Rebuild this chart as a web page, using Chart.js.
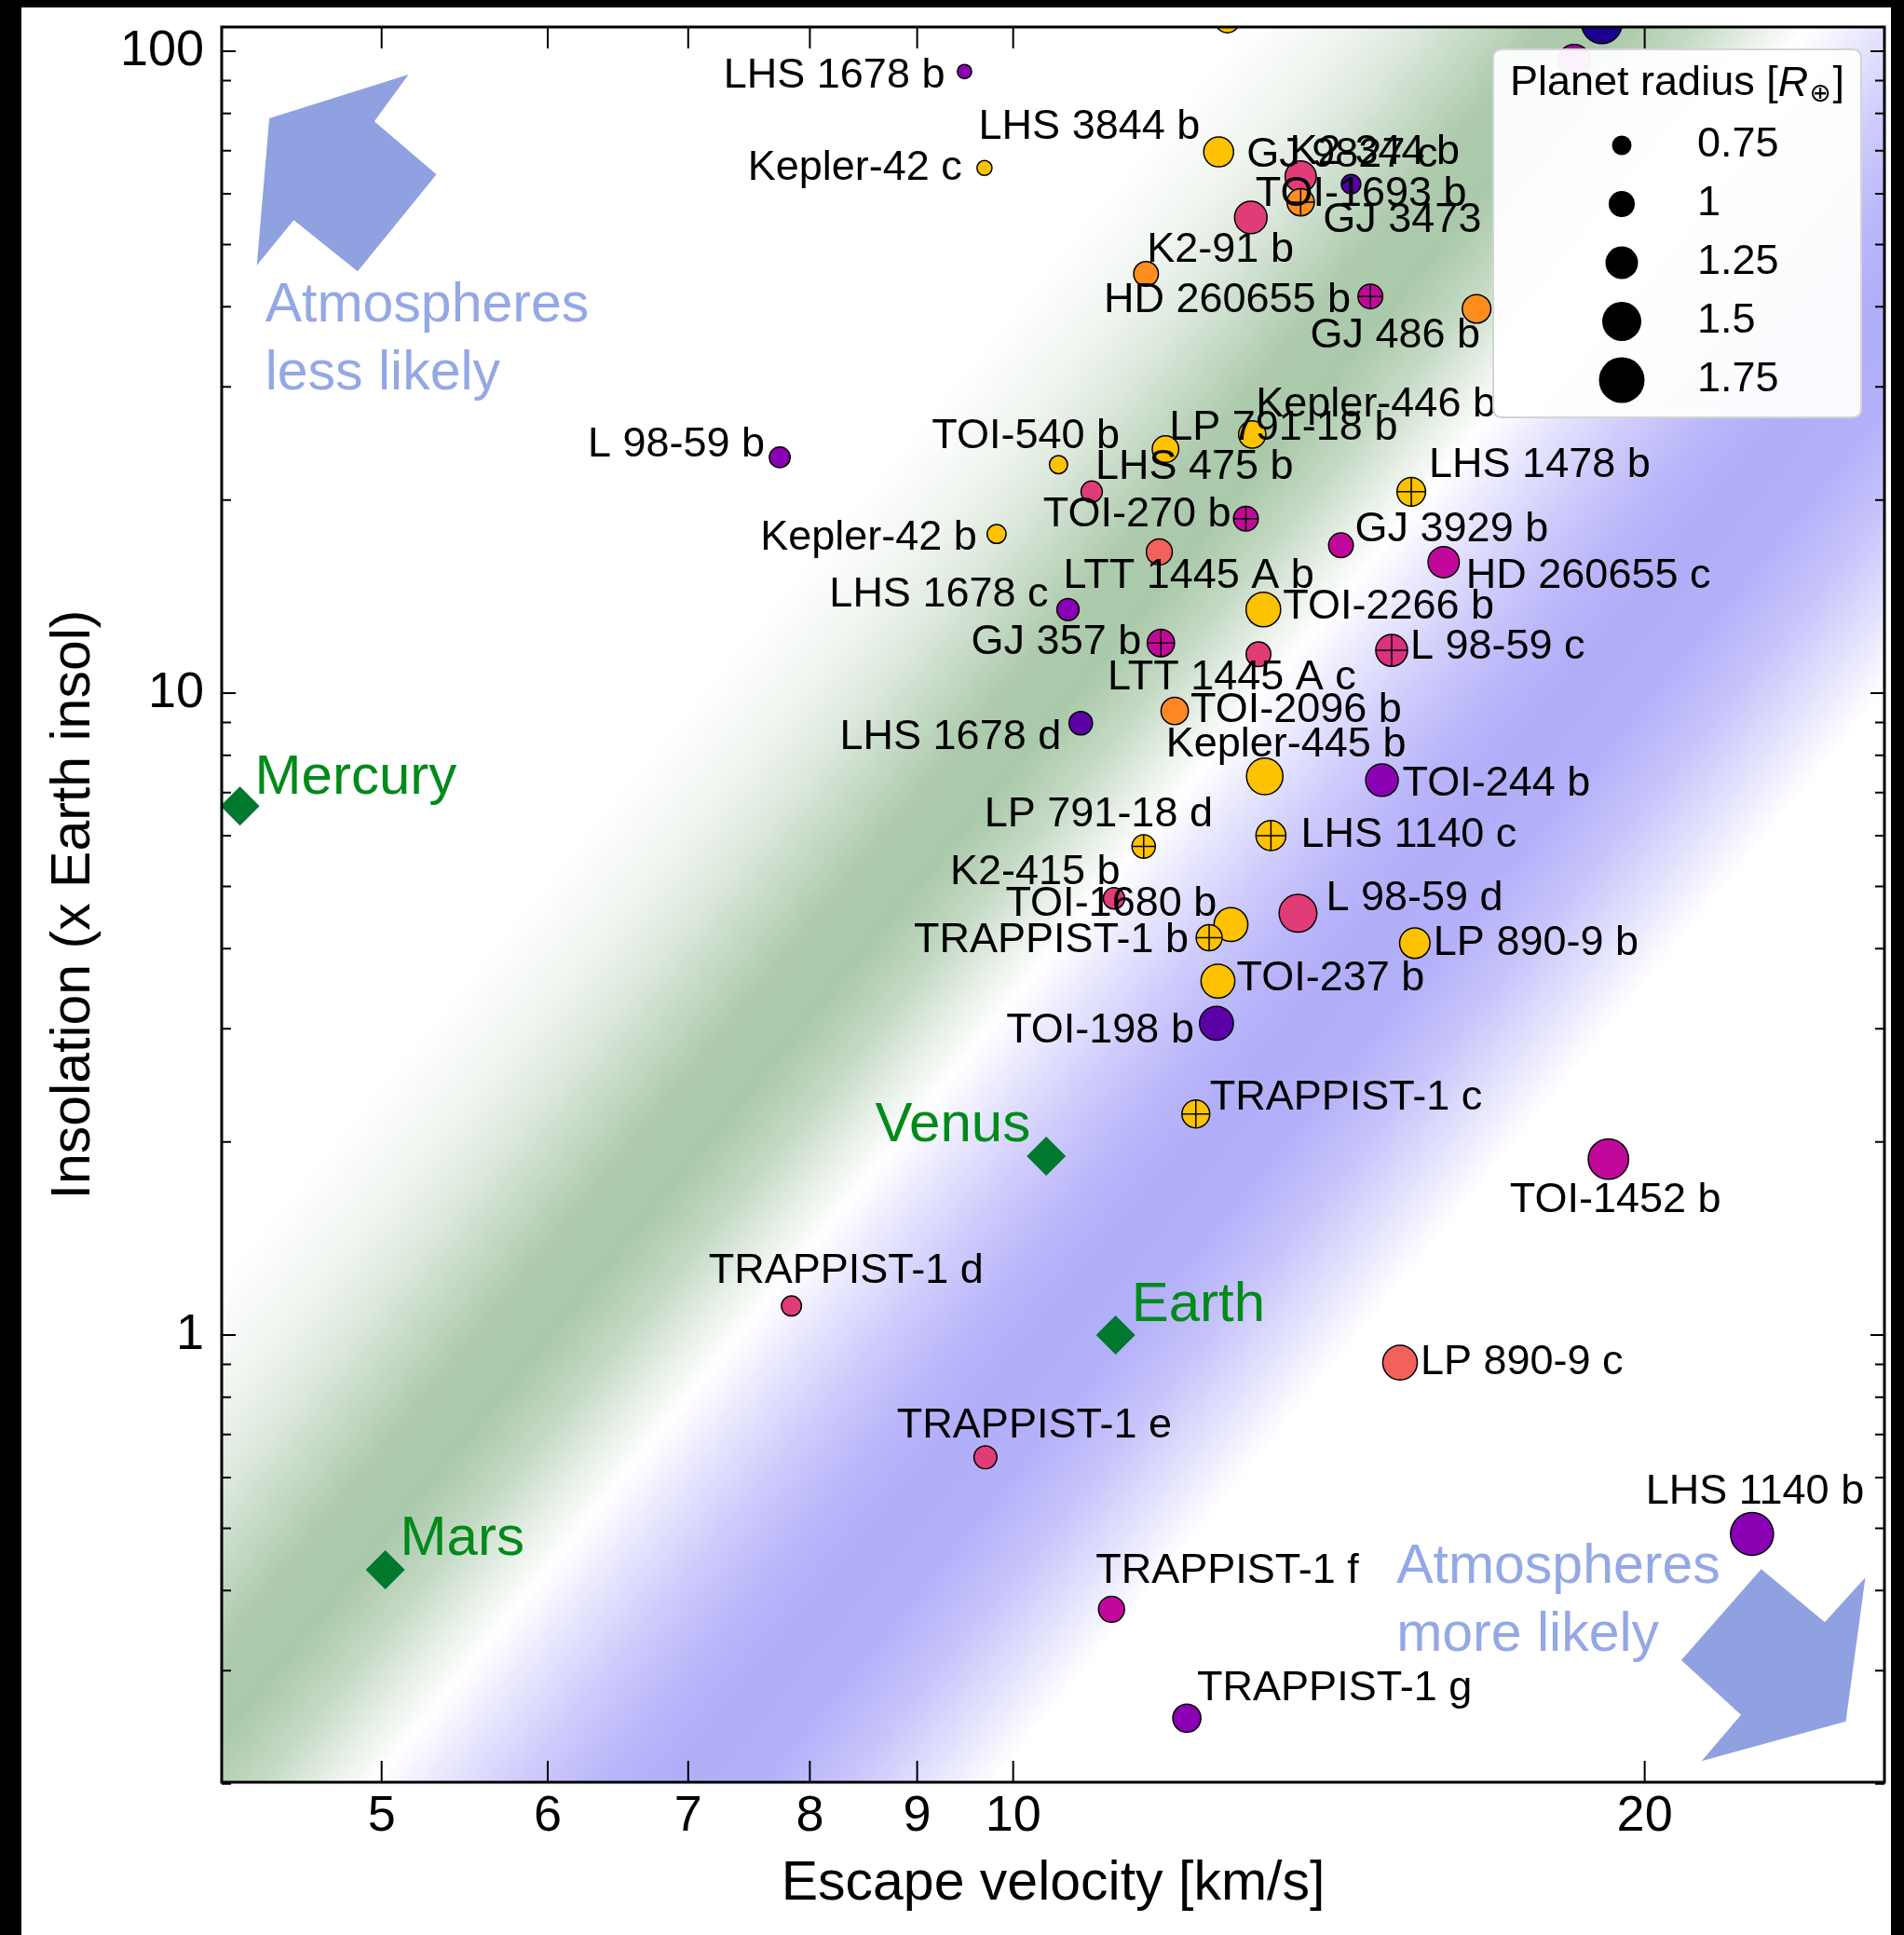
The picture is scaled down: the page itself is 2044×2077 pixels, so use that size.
<!DOCTYPE html>
<html>
<head>
<meta charset="utf-8">
<script src="https://cdn.jsdelivr.net/npm/chart.js@4.4.1/dist/chart.umd.min.js"></script>
<style>
  html, body { margin: 0; padding: 0; background: #000; width: 2044px; height: 2077px; overflow: hidden; }
  #wrap { position: absolute; left: 23px; top: 8px; width: 2007px; height: 2069px; background: #fff; }
  canvas { display: block; }
</style>
</head>
<body>
<div id="wrap"><canvas id="c" width="2007" height="2069"></canvas></div>
<script>
// ---------------- DATA ----------------
const planetNames = [
  'LHS 1678 b', 'LHS 3844 b', 'Kepler-42 c', 'GJ 9827 c', 'K2-344 b', 'GJ 3473', 'TOI-1693 b',
  'K2-91 b', 'HD 260655 b', 'GJ 486 b', 'L 98-59 b', 'TOI-540 b', 'LP 791-18 b', 'Kepler-446 b',
  'LHS 475 b', 'TOI-270 b', 'Kepler-42 b', 'LTT 1445 A b', 'LHS 1478 b', 'GJ 3929 b', 'HD 260655 c',
  'LHS 1678 c', 'TOI-2266 b', 'GJ 357 b', 'LTT 1445 A c', 'L 98-59 c', 'TOI-2096 b', 'LHS 1678 d',
  'Kepler-445 b', 'TOI-244 b', 'LP 791-18 d', 'LHS 1140 c', 'K2-415 b', 'TOI-1680 b', 'TRAPPIST-1 b',
  'L 98-59 d', 'LP 890-9 b', 'TOI-237 b', 'TOI-198 b', 'TRAPPIST-1 c', 'TOI-1452 b', 'LP 890-9 c',
  'LHS 1140 b', 'TRAPPIST-1 d', 'TRAPPIST-1 e', 'TRAPPIST-1 f', 'TRAPPIST-1 g',
  '', '', ''
];
const escapeVelocity = [
  9.48, 12.53, 9.69, 13.71, 14.49, 13.71, 12.98,
  11.57, 14.80, 16.63, 7.74, 10.51, 11.82, 13.00,
  10.90, 12.91, 9.82, 11.74, 15.48, 14.33, 16.04,
  10.62, 13.16, 11.76, 13.09, 15.15, 11.94, 10.77,
  13.18, 14.99, 11.54, 13.27, 11.17, 12.70, 12.40,
  13.67, 15.54, 12.52, 12.50, 12.22, 19.22, 15.29,
  22.50, 7.84, 9.70, 11.14, 12.10,
  12.65, 19.08, 18.51
];
const insolation = [
  93.0, 69.7, 65.8, 63.8, 62.1, 58.2, 55.1,
  45.0, 41.5, 39.7, 23.3, 22.7, 24.0, 25.3,
  20.6, 18.7, 17.7, 16.6, 20.6, 17.0, 16.0,
  13.5, 13.5, 11.97, 11.5, 11.66, 9.38, 8.98,
  7.42, 7.32, 5.77, 6.00, 4.79, 4.36, 4.16,
  4.54, 4.08, 3.56, 3.06, 2.21, 1.88, 0.906,
  0.490, 1.11, 0.645, 0.374, 0.253,
  111.7, 110.5, 96.7
];
const planetRadius = [
  0.60, 1.20, 0.63, 1.25, 0.80, 1.10, 1.30,
  1.00, 1.00, 1.15, 0.85, 0.75, 1.07, 1.10,
  0.87, 1.00, 0.78, 1.05, 1.15, 1.00, 1.25,
  0.90, 1.38, 1.10, 1.00, 1.27, 1.10, 0.95,
  1.45, 1.30, 0.95, 1.20, 0.87, 1.35, 1.05,
  1.50, 1.22, 1.35, 1.35, 1.12, 1.60, 1.38,
  1.70, 0.82, 0.93, 1.05, 1.13,
  1.00, 1.60, 1.30
];
const colourValue = [
  0.30, 0.88, 0.88, 0.52, 0.18, 0.74, 0.52,
  0.74, 0.42, 0.74, 0.30, 0.88, 0.88, 0.88,
  0.52, 0.42, 0.88, 0.60, 0.88, 0.42, 0.42,
  0.30, 0.88, 0.42, 0.52, 0.50, 0.72, 0.20,
  0.88, 0.30, 0.88, 0.88, 0.52, 0.88, 0.88,
  0.52, 0.88, 0.88, 0.20, 0.88, 0.42, 0.60,
  0.30, 0.52, 0.52, 0.42, 0.30,
  0.88, 0.03, 0.36
];
const crossedPlanets = ['GJ 3473', 'HD 260655 b', 'TOI-270 b', 'LHS 1478 b', 'GJ 357 b', 'L 98-59 c',
  'LP 791-18 d', 'LHS 1140 c', 'TRAPPIST-1 b', 'TRAPPIST-1 c'];

const solarNames = ['Mercury', 'Venus', 'Earth', 'Mars'];
const solarVelocity = [4.28, 10.37, 11.19, 5.02];
const solarInsolation = [6.67, 1.90, 1.00, 0.431];

const xTickValues = [5, 6, 7, 8, 9, 10, 20];
const yTickValues = [1, 10, 100];
const yMinorTickValues = [0.2, 0.3, 0.4, 0.5, 0.6, 0.7, 0.8, 0.9, 2, 3, 4, 5, 6, 7, 8, 9, 20, 30, 40, 50, 60, 70, 80, 90];
const xRange = [4.195, 26.02];
const yRange = [0.2011, 109.1];
const legendRadii = [0.75, 1, 1.25, 1.5, 1.75];

// cosmic-shoreline background: log10(S) - slope*log10(v) offsets and their colours
const shorelineSlope = 4;
const shorelineStops = [
  [-2.40, '#ffffff'], [-2.58, '#f1f6f1'], [-2.72, '#dfeadf'], [-2.85, '#c6dac6'], [-2.98, '#adcaad'],
  [-3.12, '#aac9aa'], [-3.26, '#c4d9c4'], [-3.38, '#e6efe6'], [-3.48, '#ffffff'], [-3.60, '#e8e7fe'],
  [-3.75, '#cfccfc'], [-3.92, '#b8b5fa'], [-4.05, '#b1aef9'], [-4.22, '#b4b1fa'], [-4.38, '#c8c5fb'],
  [-4.52, '#e2e1fd'], [-4.66, '#ffffff']
];

// "atmospheres" arrows and notes, in (escape velocity, insolation)
const arrowLessLikely = [[4.42, 78.6], [5.15, 92.0], [4.96, 77.8], [5.31, 64.3], [4.87, 45.4], [4.54, 54.6], [4.36, 46.4]];
const arrowMoreLikely = [[22.73, 0.432], [24.37, 0.357], [25.48, 0.419], [24.94, 0.250], [21.29, 0.217], [22.23, 0.256], [20.82, 0.3115]];
const regionNotes = [
  { text: 'Atmospheres', v: 4.40, s: 40.1 }, { text: 'less likely', v: 4.40, s: 31.4 },
  { text: 'Atmospheres', v: 15.23, s: 0.4346 }, { text: 'more likely', v: 15.23, s: 0.3406 }
];

// label placement (pixel offset from the marker, alignment)
const labelPlacement = {
  'LHS 1678 b': [-21, 5, 'right'], 'LHS 3844 b': [-20, -26, 'right'], 'Kepler-42 c': [-24, 0, 'right'],
  'GJ 9827 c': [-58, -23, 'left'], 'K2-344 b': [-66, -34, 'left'], 'GJ 3473': [24, 20, 'left'],
  'TOI-1693 b': [5, -25, 'left'], 'K2-91 b': [1, -25, 'left'], 'HD 260655 b': [-21, 4, 'right'],
  'GJ 486 b': [4, 29, 'right'], 'L 98-59 b': [-16, -13, 'right'], 'TOI-540 b': [-136, -30, 'left'],
  'LP 791-18 b': [4, -22, 'left'], 'Kepler-446 b': [4, -32, 'left'], 'LHS 475 b': [4, -26, 'left'],
  'TOI-270 b': [-16, -4, 'right'], 'Kepler-42 b': [-21, 4, 'right'], 'LTT 1445 A b': [-103, 26, 'left'],
  'LHS 1478 b': [19, -28, 'left'], 'GJ 3929 b': [15, -17, 'left'], 'HD 260655 c': [24, 15, 'left'],
  'LHS 1678 c': [-21, -16, 'right'], 'TOI-2266 b': [21, -3, 'left'], 'GJ 357 b': [-21, -1, 'right'],
  'LTT 1445 A c': [-162, 25, 'left'], 'L 98-59 c': [20, -4, 'left'], 'TOI-2096 b': [17, -1, 'left'],
  'LHS 1678 d': [-21, 15, 'right'], 'Kepler-445 b': [-106, -34, 'left'], 'TOI-244 b': [22, 4, 'left'],
  'LP 791-18 d': [-171, -34, 'left'], 'LHS 1140 c': [32, 0, 'left'], 'K2-415 b': [-176, -28, 'left'],
  'TOI-1680 b': [-242, -22, 'left'], 'TRAPPIST-1 b': [-22, 3, 'right'], 'L 98-59 d': [30, -16, 'left'],
  'LP 890-9 b': [20, 0, 'left'], 'TOI-237 b': [20, -3, 'left'], 'TOI-198 b': [-24, 8, 'right'],
  'TRAPPIST-1 c': [15, -17, 'left'], 'TOI-1452 b': [-106, 44, 'left'], 'LP 890-9 c': [22, 0, 'left'],
  'LHS 1140 b': [-114, -45, 'left'], 'TRAPPIST-1 d': [-89, -37, 'left'], 'TRAPPIST-1 e': [-95, -34, 'left'],
  'TRAPPIST-1 f': [-17, -41, 'left'], 'TRAPPIST-1 g': [11, -32, 'left'],
  'Mercury': [16, -30, 'left'], 'Venus': [-17, -33, 'right'], 'Earth': [17, -32, 'left'], 'Mars': [16, -32, 'left']
};

// ---------------- STYLE ----------------
const FONT = '"Liberation Sans", Arial, Helvetica, sans-serif';
const PX_PER_RADIUS = 14;
const SOLAR_GREEN = '#00782d';
const ARROW_COLOUR = '#8fa1e0';
const NOTE_COLOUR = '#94a8e6';
const colourMap = [[0, '#10008a'], [0.2, '#5c00a8'], [0.3, '#8a00b2'], [0.42, '#c2089a'], [0.52, '#e03c78'],
  [0.6, '#f2615a'], [0.73, '#ff8a1e'], [0.88, '#ffc200'], [1, '#f0f921']];

function hexToRgb(h) { const n = parseInt(h.slice(1), 16); return [(n >> 16) & 255, (n >> 8) & 255, n & 255]; }
function mapColour(t) {
  for (let k = 1; k < colourMap.length; k++) {
    const [t1, c1] = colourMap[k - 1], [t2, c2] = colourMap[k];
    if (t <= t2) {
      const f = (t - t1) / (t2 - t1), a = hexToRgb(c1), b = hexToRgb(c2);
      return 'rgb(' + a.map((v, j) => Math.round(v + (b[j] - v) * f)).join(',') + ')';
    }
  }
  return colourMap[colourMap.length - 1][1];
}

const planetPoints = planetNames.map((n, i) => ({ x: escapeVelocity[i], y: insolation[i] }));
const crossIdx = planetNames.map((n, i) => i).filter(i => crossedPlanets.includes(planetNames[i]));

// ---------------- PLUGINS ----------------
const backdropPlugin = {
  id: 'backdrop',
  beforeDatasetsDraw(chart) {
    const { ctx, chartArea: a, scales: { x, y } } = chart;
    ctx.save();
    ctx.beginPath(); ctx.rect(a.left, a.top, a.right - a.left, a.bottom - a.top); ctx.clip();
    const v0 = 10, v1 = 20;
    const P = d => ({ x: x.getPixelForValue(v0), y: y.getPixelForValue(Math.pow(10, d + shorelineSlope * Math.log10(v0))) });
    const d0 = shorelineStops[0][0], dl = shorelineStops[shorelineStops.length - 1][0];
    const p0 = P(d0);
    const q = { x: x.getPixelForValue(v1), y: y.getPixelForValue(Math.pow(10, d0 + shorelineSlope * Math.log10(v1))) };
    let ux = q.x - p0.x, uy = q.y - p0.y; const L = Math.hypot(ux, uy); ux /= L; uy /= L;
    let nx = -uy, ny = ux;
    const pl = P(dl);
    if ((pl.x - p0.x) * nx + (pl.y - p0.y) * ny < 0) { nx = -nx; ny = -ny; }
    const proj = d => { const p = P(d); return (p.x - p0.x) * nx + (p.y - p0.y) * ny; };
    const T = proj(dl);
    const g = ctx.createLinearGradient(p0.x, p0.y, p0.x + nx * T, p0.y + ny * T);
    shorelineStops.forEach(([d, c]) => g.addColorStop(Math.min(1, Math.max(0, proj(d) / T)), c));
    ctx.fillStyle = g;
    ctx.fillRect(a.left, a.top, a.right - a.left, a.bottom - a.top);
    ctx.fillStyle = ARROW_COLOUR;
    [arrowLessLikely, arrowMoreLikely].forEach(poly => {
      ctx.beginPath();
      poly.forEach(([v, s], k) => {
        const px = x.getPixelForValue(v), py = y.getPixelForValue(s);
        if (k) ctx.lineTo(px, py); else ctx.moveTo(px, py);
      });
      ctx.closePath(); ctx.fill();
    });
    ctx.font = '59px ' + FONT; ctx.fillStyle = NOTE_COLOUR; ctx.textAlign = 'left'; ctx.textBaseline = 'middle';
    regionNotes.forEach(n => ctx.fillText(n.text, x.getPixelForValue(n.v), y.getPixelForValue(n.s)));
    ctx.restore();
  }
};

const overlayPlugin = {
  id: 'overlay',
  afterDatasetsDraw(chart) {
    const { ctx, chartArea: a, scales: { x, y } } = chart;
    ctx.save();
    ctx.beginPath(); ctx.rect(a.left, a.top, a.right - a.left, a.bottom - a.top); ctx.clip();
    ctx.textBaseline = 'middle';
    ctx.font = '45px ' + FONT; ctx.fillStyle = '#000';
    planetNames.forEach((name, i) => {
      const p = labelPlacement[name]; if (!name || !p) return;
      ctx.textAlign = p[2];
      ctx.fillText(name, x.getPixelForValue(escapeVelocity[i]) + p[0], y.getPixelForValue(insolation[i]) + p[1]);
    });
    ctx.font = '60px ' + FONT; ctx.fillStyle = '#008a1a';
    solarNames.forEach((name, i) => {
      const p = labelPlacement[name];
      ctx.textAlign = p[2];
      ctx.fillText(name, x.getPixelForValue(solarVelocity[i]) + p[0], y.getPixelForValue(solarInsolation[i]) + p[1]);
    });
    ctx.restore();

    ctx.save();
    ctx.strokeStyle = '#000'; ctx.lineWidth = 2; ctx.beginPath();
    xTickValues.forEach(v => {
      const px = x.getPixelForValue(v);
      ctx.moveTo(px, a.bottom); ctx.lineTo(px, a.bottom - 23);
      ctx.moveTo(px, a.top); ctx.lineTo(px, a.top + 23);
    });
    yTickValues.forEach(v => {
      const py = y.getPixelForValue(v);
      ctx.moveTo(a.left, py); ctx.lineTo(a.left + 15, py);
      ctx.moveTo(a.right, py); ctx.lineTo(a.right - 15, py);
    });
    yMinorTickValues.forEach(v => {
      const py = y.getPixelForValue(v);
      ctx.moveTo(a.left, py); ctx.lineTo(a.left + 10, py);
      ctx.moveTo(a.right, py); ctx.lineTo(a.right - 10, py);
    });
    ctx.stroke();
    ctx.lineWidth = 3;
    ctx.strokeRect(a.left, a.top, a.right - a.left, a.bottom - a.top);
    ctx.restore();

    ctx.save();
    const w = 395, h = 395, bx = a.right - 25 - w, by = a.top + 24, r = 10;
    ctx.beginPath();
    ctx.moveTo(bx + r, by); ctx.lineTo(bx + w - r, by); ctx.quadraticCurveTo(bx + w, by, bx + w, by + r);
    ctx.lineTo(bx + w, by + h - r); ctx.quadraticCurveTo(bx + w, by + h, bx + w - r, by + h);
    ctx.lineTo(bx + r, by + h); ctx.quadraticCurveTo(bx, by + h, bx, by + h - r);
    ctx.lineTo(bx, by + r); ctx.quadraticCurveTo(bx, by, bx + r, by); ctx.closePath();
    ctx.fillStyle = 'rgba(255,255,255,0.95)'; ctx.fill();
    ctx.strokeStyle = '#d4d4d4'; ctx.lineWidth = 2; ctx.stroke();
    ctx.fillStyle = '#000'; ctx.textAlign = 'left'; ctx.textBaseline = 'middle';
    let tx = bx + 18; const ty = by + 37;
    ctx.font = '45px ' + FONT; const t1 = 'Planet radius ['; ctx.fillText(t1, tx, ty); tx += ctx.measureText(t1).width;
    ctx.font = 'italic 45px ' + FONT; ctx.fillText('R', tx, ty); tx += ctx.measureText('R').width + 1;
    ctx.font = '28px "DejaVu Sans", ' + FONT; ctx.fillText('\u2295', tx, ty + 12); tx += ctx.measureText('\u2295').width + 2;
    ctx.font = '45px ' + FONT; ctx.fillText(']', tx, ty);
    legendRadii.forEach((R, i) => {
      const cy = by + 103 + i * 63;
      ctx.beginPath(); ctx.arc(bx + 138, cy, R * PX_PER_RADIUS, 0, Math.PI * 2); ctx.fillStyle = '#000'; ctx.fill();
      ctx.font = '45px ' + FONT; ctx.fillText(String(R), bx + 219, cy);
    });
    ctx.restore();
  }
};

// ---------------- CHART ----------------
new Chart(document.getElementById('c'), {
  type: 'scatter',
  data: {
    datasets: [
      {
        label: 'Solar System',
        data: solarNames.map((n, i) => ({ x: solarVelocity[i], y: solarInsolation[i] })),
        pointStyle: 'rectRot', pointRadius: 21, backgroundColor: SOLAR_GREEN, borderColor: SOLAR_GREEN,
        borderWidth: 0, order: 2, clip: 0
      },
      {
        label: 'Planets',
        data: planetPoints,
        pointStyle: 'circle',
        pointRadius: planetRadius.map(R => R * PX_PER_RADIUS - 0.75),
        backgroundColor: colourValue.map(mapColour),
        borderColor: '#000', borderWidth: 1.5, order: 1, clip: 0
      },
      {
        label: 'Observed',
        data: crossIdx.map(i => planetPoints[i]),
        pointStyle: 'cross',
        pointRadius: crossIdx.map(i => planetRadius[i] * PX_PER_RADIUS - 0.75),
        borderColor: '#000', borderWidth: 1.5, order: 0, clip: 0
      }
    ]
  },
  options: {
    responsive: false, animation: false, events: [], devicePixelRatio: 1,
    layout: { autoPadding: false, padding: { top: 21, right: 7, left: 0, bottom: 0 } },
    plugins: { legend: { display: false }, tooltip: { enabled: false } },
    scales: {
      x: {
        type: 'logarithmic', min: xRange[0], max: xRange[1],
        afterBuildTicks: s => { s.ticks = xTickValues.map(v => ({ value: v })); },
        afterFit: s => { s.height = 164; s.paddingLeft = 0; s.paddingRight = 0; },
        grid: { display: false, drawTicks: false }, border: { display: false },
        ticks: { autoSkip: false, maxRotation: 0, minRotation: 0, padding: 5, color: '#000',
          font: { family: FONT, size: 54 }, callback: v => String(v) },
        title: { display: true, text: 'Escape velocity [km/s]', color: '#000',
          font: { family: FONT, size: 59 }, padding: { top: 0, bottom: 19 } }
      },
      y: {
        type: 'logarithmic', min: yRange[0], max: yRange[1],
        afterBuildTicks: s => { s.ticks = yTickValues.map(v => ({ value: v })); },
        afterFit: s => { s.width = 215; s.paddingTop = 0; s.paddingBottom = 0; },
        grid: { display: false, drawTicks: false }, border: { display: false },
        ticks: { autoSkip: false, padding: 19, color: '#000',
          font: { family: FONT, size: 54 }, callback: v => String(v) },
        title: { display: true, text: 'Insolation (x Earth insol)', color: '#000',
          font: { family: FONT, size: 59 }, padding: { top: 21, bottom: 0 } }
      }
    }
  },
  plugins: [backdropPlugin, overlayPlugin]
});
</script>
</body>
</html>
